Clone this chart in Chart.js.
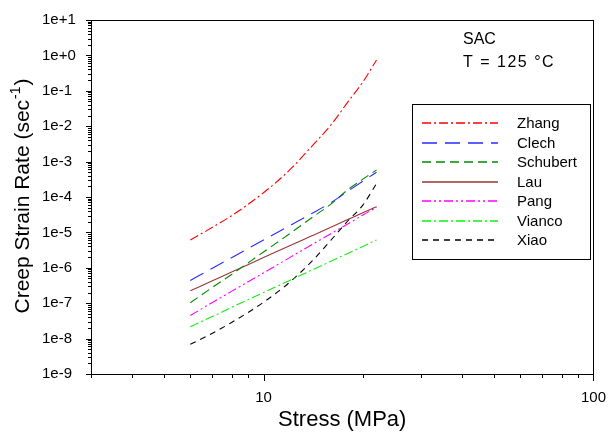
<!DOCTYPE html>
<html><head><meta charset="utf-8">
<script src="https://cdn.jsdelivr.net/npm/chart.js@4.4.1/dist/chart.umd.min.js"></script>
<style>html,body{margin:0;padding:0;background:#fff}#wrap{width:613px;height:435px;position:relative}</style>
</head><body><div id="wrap"><canvas id="c" width="613" height="435"></canvas></div>
<script>
// ---- data ----
const stress   = [6, 7, 8, 10, 12, 14, 16, 18, 20, 22];
const zhang    = [6.1e-6, 1.39e-5, 2.96e-5, 1.32e-4, 5.8e-4, 2.7e-3, 1.08e-2, 4.8e-2, 0.177, 0.74];
const clech    = [4.4e-7, 9.7e-7, 1.93e-6, 6.1e-6, 1.55e-5, 3.4e-5, 6.9e-5, 1.45e-4, 2.8e-4, 5.0e-4];
const schubert = [1.03e-7, 2.8e-7, 6.5e-7, 2.8e-6, 9.2e-6, 2.6e-5, 6.3e-5, 1.6e-4, 3.2e-4, 5.8e-4];
const lau      = [2.25e-7, 4.3e-7, 7.6e-7, 1.94e-6, 4.2e-6, 8.0e-6, 1.4e-5, 2.3e-5, 3.6e-5, 5.3e-5];
const pang     = [4.5e-8, 1.05e-7, 2.16e-7, 7.2e-7, 1.94e-6, 4.5e-6, 9.2e-6, 1.73e-5, 3.1e-5, 5.1e-5];
const vianco   = [2.17e-8, 4.2e-8, 7.6e-8, 2.0e-7, 4.4e-7, 8.6e-7, 1.53e-6, 2.55e-6, 4.0e-6, 6.1e-6];
const xiao     = [6.9e-9, 1.42e-8, 2.85e-8, 1.06e-7, 3.9e-7, 1.52e-6, 6.0e-6, 2.1e-5, 5.9e-5, 2.4e-4];
const seriesNames = ['Zhang', 'Clech', 'Schubert', 'Lau', 'Pang', 'Vianco', 'Xiao'];
const seriesValues = [zhang, clech, schubert, lau, pang, vianco, xiao];
const xTickLabels = ['10', '100'];
const xRange = [3, 100];
const yTickLabels = ['1e-9', '1e-8', '1e-7', '1e-6', '1e-5', '1e-4', '1e-3', '1e-2', '1e-1', '1e+0', '1e+1'];
const annotationLines = ['SAC', 'T = 125 \u00B0C'];
const xTitle = 'Stress (MPa)';
const yTitleMain = 'Creep Strain Rate (sec';
const yTitleSup = '-1';
const yTitleEnd = ')';

// ---- styles ----
const FONT = '"Liberation Sans", Arial, Helvetica, sans-serif';
const seriesStyles = [
  {color: '#ff0000', dash: [9, 3, 2, 3]},
  {color: '#2a2aff', dash: [15, 8]},
  {color: '#008a00', dash: [9, 5]},
  {color: '#9a3535', dash: []},
  {color: '#ff00ff', dash: [9, 3, 2, 3, 2, 3]},
  {color: '#11ee11', dash: [9, 3, 2, 3]},
  {color: '#000000', dash: [6, 5]}
];

const datasets = seriesNames.map((name, i) => ({
  label: name,
  data: stress.map((s, j) => ({x: s, y: seriesValues[i][j]})),
  borderColor: seriesStyles[i].color,
  borderDash: seriesStyles[i].dash,
  borderWidth: 1.1,
  pointRadius: 0,
  fill: false,
  cubicInterpolationMode: 'monotone'
}));

const yMajorVals = yTickLabels.map(Number);
const xMajorVals = xTickLabels.map(Number);

const framePlugin = {
  id: 'frame',
  afterDraw(chart) {
    const ctx = chart.ctx;
    const a = chart.chartArea;
    const xs = chart.scales.x, ys = chart.scales.y;
    ctx.save();
    ctx.setLineDash([]);
    ctx.strokeStyle = '#000';
    ctx.lineWidth = 1;
    // frame
    ctx.strokeRect(Math.round(a.left) + 0.5, Math.round(a.top) + 0.5, Math.round(a.right - a.left), Math.round(a.bottom - a.top));
    // x tick marks
    ctx.beginPath();
    xs.ticks.forEach(t => {
      const px = Math.round(xs.getPixelForValue(t.value)) + 0.5;
      const len = xMajorVals.includes(t.value) ? 7 : 4;
      ctx.moveTo(px, a.bottom); ctx.lineTo(px, a.bottom + len);
    });
    // y tick marks
    ys.ticks.forEach(t => {
      const py = Math.round(ys.getPixelForValue(t.value)) + 0.5;
      const len = t.major ? 5 : 3;
      ctx.moveTo(a.left, py); ctx.lineTo(a.left - len, py);
    });
    ctx.stroke();

    // annotation
    ctx.fillStyle = '#000';
    ctx.font = '16px ' + FONT;
    ctx.textAlign = 'left';
    ctx.textBaseline = 'middle';
    ctx.fillText(annotationLines[0], 463, 40);
    ctx.save();
    try { ctx.letterSpacing = '1.5px'; } catch (e) {}
    ctx.fillText(annotationLines[1], 463, 63);
    ctx.restore();

    // legend box
    ctx.strokeStyle = '#000';
    ctx.lineWidth = 1;
    ctx.setLineDash([]);
    ctx.strokeRect(412.5, 104.5, 178, 155);
    ctx.font = '15px ' + FONT;
    seriesNames.forEach((name, i) => {
      const y = Math.round(123.3 + i * 19.45);
      ctx.save();
      ctx.beginPath();
      ctx.strokeStyle = seriesStyles[i].color;
      ctx.setLineDash(seriesStyles[i].dash);
      ctx.lineWidth = 1.5;
      ctx.moveTo(422, y); ctx.lineTo(498, y);
      ctx.stroke();
      ctx.restore();
      ctx.fillStyle = '#000';
      ctx.fillText(name, 517, y + 0.5);
    });

    // y title (rotated, with superscript)
    ctx.translate(23, 196);
    ctx.rotate(-Math.PI / 2);
    ctx.fillStyle = '#000';
    ctx.textAlign = 'left';
    ctx.textBaseline = 'middle';
    ctx.font = '21px ' + FONT;
    const w1 = ctx.measureText(yTitleMain).width;
    const w3 = ctx.measureText(yTitleEnd).width;
    ctx.font = '14px ' + FONT;
    const w2 = ctx.measureText(yTitleSup).width;
    let x0 = -(w1 + w2 + w3 + 2) / 2;
    ctx.font = '21px ' + FONT;
    ctx.fillText(yTitleMain, x0, 0);
    ctx.font = '14px ' + FONT;
    ctx.fillText(yTitleSup, x0 + w1 + 1, -7);
    ctx.font = '21px ' + FONT;
    ctx.fillText(yTitleEnd, x0 + w1 + w2 + 2, 0);
    ctx.restore();
  }
};

new Chart(document.getElementById('c'), {
  type: 'line',
  data: {datasets},
  options: {
    responsive: false,
    devicePixelRatio: 1,
    animation: false,
    layout: {padding: {left: 42, right: 0, top: 20, bottom: 0}},
    plugins: {legend: {display: false}, tooltip: {enabled: false}},
    scales: {
      x: {
        type: 'logarithmic',
        min: xRange[0], max: xRange[1],
        grid: {display: false},
        border: {display: true, color: '#000', width: 1},
        afterBuildTicks(scale) {
          const t = [];
          for (let e = 0; e <= 1; e++) {
            for (let m = 1; m <= 9; m++) {
              const v = m * Math.pow(10, e);
              if (v >= xRange[0] && v <= xRange[1]) t.push({value: v});
            }
          }
          t.push({value: xRange[1]});
          scale.ticks = t;
        },
        afterFit(scale) { scale.height = 61; },
        ticks: {
          autoSkip: false, maxRotation: 0, padding: 7,
          color: '#000', font: {size: 15, family: FONT},
          callback(v) { const i = xMajorVals.indexOf(v); return i >= 0 ? xTickLabels[i] : ''; }
        },
        title: {display: true, text: xTitle, color: '#000', font: {size: 22, family: FONT}, padding: {top: 0, bottom: 2}}
      },
      y: {
        type: 'logarithmic',
        min: yMajorVals[0], max: yMajorVals[yMajorVals.length - 1],
        grid: {display: false},
        border: {display: true, color: '#000', width: 1},
        afterBuildTicks(scale) {
          const t = [];
          for (let e = -9; e <= 1; e++) {
            for (let m = 1; m <= 9; m++) {
              const v = Number(m + 'e' + e);
              if (v >= scale.min && v <= scale.max) t.push({value: v, major: m === 1});
            }
          }
          scale.ticks = t;
        },
        afterFit(scale) { scale.width = 49; },
        ticks: {
          autoSkip: false, crossAlign: 'far',
          color: '#000', font: {size: 15, family: FONT},
          callback(v) { const i = yMajorVals.findIndex(m => Math.abs(m - v) / m < 1e-9); return i >= 0 ? yTickLabels[i] : ''; }
        }
      }
    }
  },
  plugins: [framePlugin]
});
</script>
</body></html>
